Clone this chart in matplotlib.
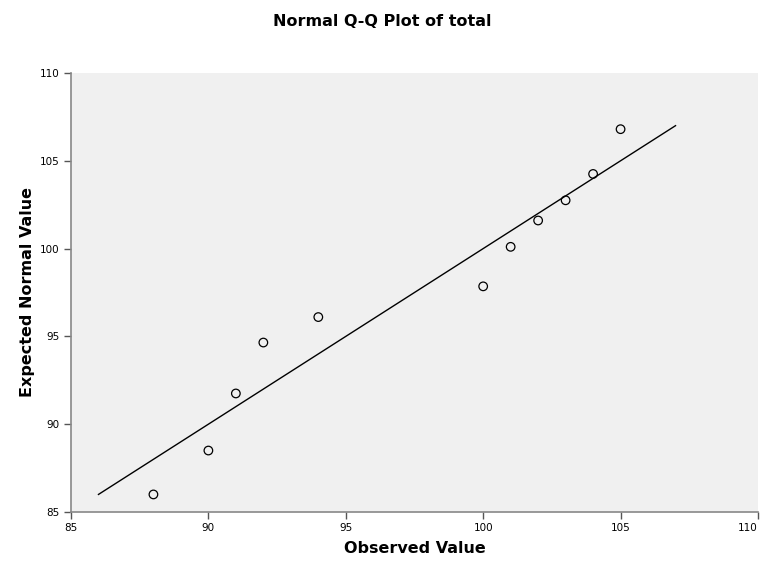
import matplotlib
matplotlib.use("Agg")
import matplotlib.pyplot as plt

observed = [88, 90, 91, 92, 94, 100, 101, 102, 103, 104, 105]
expected = [86.0, 88.5, 91.75, 94.65, 96.1, 97.85, 100.1, 101.6, 102.75, 104.25, 106.8]
line_x = [86, 107]
line_y = [86, 107]
xticks = [85, 90, 95, 100, 105, 110]
yticks = [85, 90, 95, 100, 105, 110]

fig = plt.figure(figsize=(7.65, 5.68), dpi=100)
fig.patch.set_facecolor("white")
ax = fig.add_axes([0.0928, 0.0986, 0.898, 0.7729])
ax.set_facecolor("#f0f0f0")

ax.plot(line_x, line_y, color="black", linewidth=1.0)
ax.scatter(observed, expected, s=38, facecolors="none", edgecolors="black", linewidths=0.9, zorder=3)

ax.set_xlim(85, 110)
ax.set_ylim(85, 110)
ax.set_xticks(xticks)
ax.set_yticks(yticks)
ax.tick_params(axis="both", direction="out", length=5, width=1, color="#555555", labelsize=7.5, pad=3)
xlabels = ax.get_xticklabels()
xlabels[-1].set_horizontalalignment("right")

for s in ["top", "right"]:
    ax.spines[s].set_visible(False)
for s in ["left", "bottom"]:
    ax.spines[s].set_color("#888888")
    ax.spines[s].set_linewidth(1.2)

ax.set_xlabel("Observed Value", fontsize=11.5, fontweight="bold", labelpad=6)
ax.set_ylabel("Expected Normal Value", fontsize=11.5, fontweight="bold", labelpad=4)
fig.text(0.5, 0.962, "Normal Q-Q Plot of total", ha="center", va="center", fontsize=11.5, fontweight="bold")

fig.savefig("out.png", dpi=100)
